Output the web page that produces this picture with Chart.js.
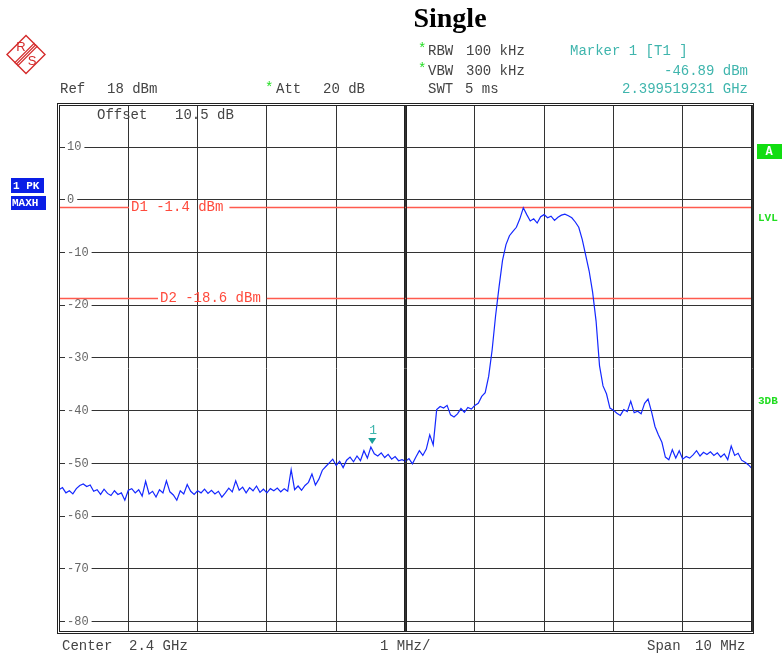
<!DOCTYPE html>
<html lang="en">
<head>
<meta charset="UTF-8">
<title>Spectrum</title>
<script src="https://cdn.jsdelivr.net/npm/chart.js"></script>
<style>
  body { margin: 0; background: #fff; }
  canvas { display: block; }
</style>
</head>
<body>
<canvas id="myChart" width="783" height="657"></canvas>
<script>
// sweep: 2395 .. 2405 MHz, 201 points
const freqStart = 2395
const freqStep = 0.05
const levels = [
  -55.0, -54.6, -55.6, -55.2, -55.8, -54.8, -54.2, -53.9, -54.4, -54.1,
  -55.3, -55.0, -55.9, -54.9, -55.7, -56.1, -55.2, -55.9, -55.6, -57.0,
  -55.1, -54.8, -55.6, -55.0, -56.2, -53.4, -55.8, -55.3, -56.4, -55.0,
  -55.6, -53.3, -55.4, -56.0, -57.0, -55.2, -55.8, -54.0, -55.3, -55.9,
  -55.2, -55.6, -54.9, -55.7, -55.1, -55.8, -55.3, -56.4, -55.6, -54.7,
  -55.4, -53.3, -55.1, -54.5, -55.6, -54.6, -55.2, -54.3, -55.5, -54.9,
  -55.6, -54.8, -55.2, -54.7, -55.4, -54.8, -55.3, -51.2, -55.0, -54.3,
  -55.1, -54.2, -53.6, -52.0, -54.1, -53.0, -51.3, -50.6, -49.9, -49.2,
  -50.4, -49.6, -50.8, -49.4, -48.8, -49.7, -48.6, -49.5, -47.6, -49.0,
  -46.9, -48.2, -48.6, -48.0, -48.9, -48.3, -49.2, -48.7, -49.5, -49.3,
  -49.6, -49.1, -50.1, -48.8, -47.6, -48.5, -47.3, -44.6, -46.5, -39.8,
  -39.2, -39.5, -39.0, -40.8, -41.2, -40.6, -39.6, -40.3, -39.4, -39.7,
  -39.0, -38.6, -37.3, -36.6, -33.5, -28.5, -22.0, -16.5, -11.5, -8.5,
  -6.8, -6.0, -5.2, -3.6, -1.5, -2.8, -4.0, -3.6, -4.4, -3.2,
  -2.8, -3.4, -3.1, -3.9, -3.3, -2.9, -2.7, -3.0, -3.4, -4.2,
  -5.2, -7.5, -10.5, -13.5, -17.5, -23.0, -31.5, -35.3, -36.8, -39.5,
  -39.9, -40.5, -40.9, -39.8, -40.2, -38.2, -40.4, -40.1, -40.6, -38.6,
  -37.8, -40.2, -43.0, -44.6, -46.0, -48.8, -49.3, -47.4, -49.0, -47.6,
  -49.2, -48.7, -49.0, -48.4, -47.6, -48.6, -47.9, -48.3, -47.8, -48.5,
  -48.0, -48.8, -48.2, -49.3, -46.7, -48.5, -48.1, -49.4, -49.8, -50.3,
  -51.0
]
const yTicks = [10, 0, -10, -20, -30, -40, -50, -60, -70, -80]
const refLevel = 18
const bottomLevel = -82
const lineNames = ['D1', 'D2']
const lineLevels = [-1.4, -18.6]
const markerFreq = 2399.519231
const markerLevel = -46.89

const mono = '"Liberation Mono", "DejaVu Sans Mono", monospace'
const points = levels.map((v, i) => ({ x: freqStart + i * freqStep, y: v }))

function txt(ctx, s, x, y, color, font, align) {
  ctx.font = font || '14px ' + mono
  ctx.fillStyle = color || '#444'
  ctx.textAlign = align || 'left'
  ctx.textBaseline = 'middle'
  ctx.fillText(s, x, y)
}

const underTrace = {
  id: 'underTrace',
  beforeDatasetsDraw(chart) {
    const ctx = chart.ctx, a = chart.chartArea, ys = chart.scales.y
    ctx.save()
    // y labels sitting on the grid
    ctx.font = '12px ' + mono
    yTicks.forEach(t => {
      const py = ys.getPixelForValue(t)
      const w = ctx.measureText(String(t)).width
      ctx.fillStyle = '#fff'
      ctx.fillRect(a.left + 6, py - 5, w + 5, 10)
      txt(ctx, String(t), a.left + 8, py, '#666', '12px ' + mono)
    })
    // display lines
    const labelX = [131, 160]
    lineNames.forEach((n, i) => {
      const py = Math.round(ys.getPixelForValue(lineLevels[i])) + 0.5
      const label = n + ' ' + lineLevels[i].toFixed(1) + ' dBm'
      ctx.font = '14px ' + mono
      const w = ctx.measureText(label).width
      ctx.strokeStyle = '#ff5a4e'
      ctx.lineWidth = 1.5
      ctx.beginPath()
      ctx.moveTo(a.left, py); ctx.lineTo(labelX[i] - 2, py)
      ctx.moveTo(labelX[i] + w + 6, py); ctx.lineTo(a.right, py)
      ctx.stroke()
      txt(ctx, label, labelX[i], py, '#ff4a3c')
    })
    txt(ctx, 'Offset', 97, 115, '#444')
    txt(ctx, '10.5 dB', 175, 115, '#444')
    ctx.restore()
  },
  afterDraw(chart) {
    const ctx = chart.ctx, a = chart.chartArea
    const xs = chart.scales.x, ys = chart.scales.y
    ctx.save()
    // frame, double lines
    ctx.strokeStyle = '#222'
    ctx.lineWidth = 1
    ctx.strokeRect(a.left - 1.5, a.top - 1.5, a.right - a.left + 3, a.bottom - a.top + 3)
    ctx.strokeRect(a.left + 0.5, a.top + 0.5, a.right - a.left - 1, a.bottom - a.top - 1)
    const cx = Math.round(xs.getPixelForValue(2400))
    ctx.beginPath()
    ctx.moveTo(cx - 1.5, a.top); ctx.lineTo(cx - 1.5, a.bottom)
    ctx.moveTo(cx + 0.5, a.top); ctx.lineTo(cx + 0.5, a.bottom)
    ctx.stroke()

    // marker
    const mx = xs.getPixelForValue(markerFreq), my = ys.getPixelForValue(markerLevel)
    ctx.fillStyle = '#1a9f98'
    ctx.beginPath()
    ctx.moveTo(mx - 4, my - 9); ctx.lineTo(mx + 4, my - 9); ctx.lineTo(mx, my - 3)
    ctx.closePath(); ctx.fill()
    txt(ctx, '1', mx + 1, my - 16, '#3fb5ad', '13px ' + mono, 'center')

    // header
    txt(ctx, 'Single', 450, 20, '#000', 'bold 28px "Liberation Serif", serif', 'center')
    const green = '#22dd22', teal = '#3fb5ad'
    txt(ctx, 'Ref', 60, 89); txt(ctx, '18 dBm', 107, 89)
    txt(ctx, '*', 265, 88, green); txt(ctx, 'Att', 276, 89); txt(ctx, '20 dB', 323, 89)
    txt(ctx, '*', 418, 49, green); txt(ctx, 'RBW', 428, 51); txt(ctx, '100 kHz', 466, 51)
    txt(ctx, '*', 418, 69, green); txt(ctx, 'VBW', 428, 71); txt(ctx, '300 kHz', 466, 71)
    txt(ctx, 'SWT', 428, 89); txt(ctx, '5 ms', 465, 89)
    txt(ctx, 'Marker 1 [T1 ]', 570, 51, teal)
    txt(ctx, markerLevel.toFixed(2) + ' dBm', 748, 71, teal, null, 'right')
    txt(ctx, (markerFreq / 1000).toFixed(9) + ' GHz', 748, 89, teal, null, 'right')

    // footer
    txt(ctx, 'Center', 62, 646); txt(ctx, '2.4 GHz', 129, 646)
    txt(ctx, '1 MHz/', 380, 646)
    txt(ctx, 'Span', 647, 646); txt(ctx, '10 MHz', 695, 646)

    // side boxes
    ctx.fillStyle = '#0a1ee6'
    ctx.fillRect(11, 178, 33, 15)
    ctx.fillRect(11, 196, 35, 14)
    txt(ctx, '1 PK', 13, 186, '#fff', 'bold 11px ' + mono)
    txt(ctx, 'MAXH', 12, 203, '#fff', 'bold 11px ' + mono)
    ctx.fillStyle = '#11dd11'
    ctx.fillRect(757, 144, 25, 15)
    txt(ctx, 'A', 769, 152, '#fff', 'bold 12px ' + mono, 'center')
    txt(ctx, 'LVL', 758, 218, green, 'bold 11px ' + mono)
    txt(ctx, '3DB', 758, 401, green, 'bold 11px ' + mono)

    // R&S logo
    const lx = 26, ly = 54.5, r = 19
    ctx.strokeStyle = '#d42a2a'
    ctx.lineWidth = 1.4
    ctx.beginPath()
    ctx.moveTo(lx, ly - r); ctx.lineTo(lx + r, ly); ctx.lineTo(lx, ly + r); ctx.lineTo(lx - r, ly)
    ctx.closePath(); ctx.stroke()
    ctx.lineWidth = 1.1
    for (let k = -1; k <= 1; k++) {
      ctx.beginPath()
      ctx.moveTo(lx - 10 + k * 1.5, ly + 10 + k * 1.5)
      ctx.lineTo(lx + 10 + k * 1.5, ly - 10 + k * 1.5)
      ctx.stroke()
    }
    txt(ctx, 'R', lx - 5, ly - 7, '#d42a2a', '13px "Liberation Sans", sans-serif', 'center')
    txt(ctx, 'S', lx + 6, ly + 7, '#d42a2a', '13px "Liberation Sans", sans-serif', 'center')
    ctx.restore()
  }
}

new Chart(document.getElementById('myChart'), {
  type: 'line',
  data: {
    datasets: [{
      data: points,
      borderColor: '#1428ff',
      borderWidth: 1.2,
      pointRadius: 0,
      tension: 0,
      fill: false
    }]
  },
  options: {
    responsive: false,
    animation: false,
    devicePixelRatio: 1,
    layout: { padding: { left: 59, top: 105, right: 31, bottom: 25 } },
    plugins: { legend: { display: false }, tooltip: { enabled: false } },
    scales: {
      x: {
        type: 'linear',
        min: freqStart,
        max: 2405,
        ticks: { display: false, stepSize: 1 },
        grid: { color: '#333', drawTicks: false },
        border: { display: false }
      },
      y: {
        min: bottomLevel,
        max: refLevel,
        afterBuildTicks: s => { s.ticks = yTicks.map(v => ({ value: v })) },
        ticks: { display: false },
        grid: { color: '#333', drawTicks: false },
        border: { display: false }
      }
    }
  },
  plugins: [underTrace]
})
</script>
</body>
</html>
